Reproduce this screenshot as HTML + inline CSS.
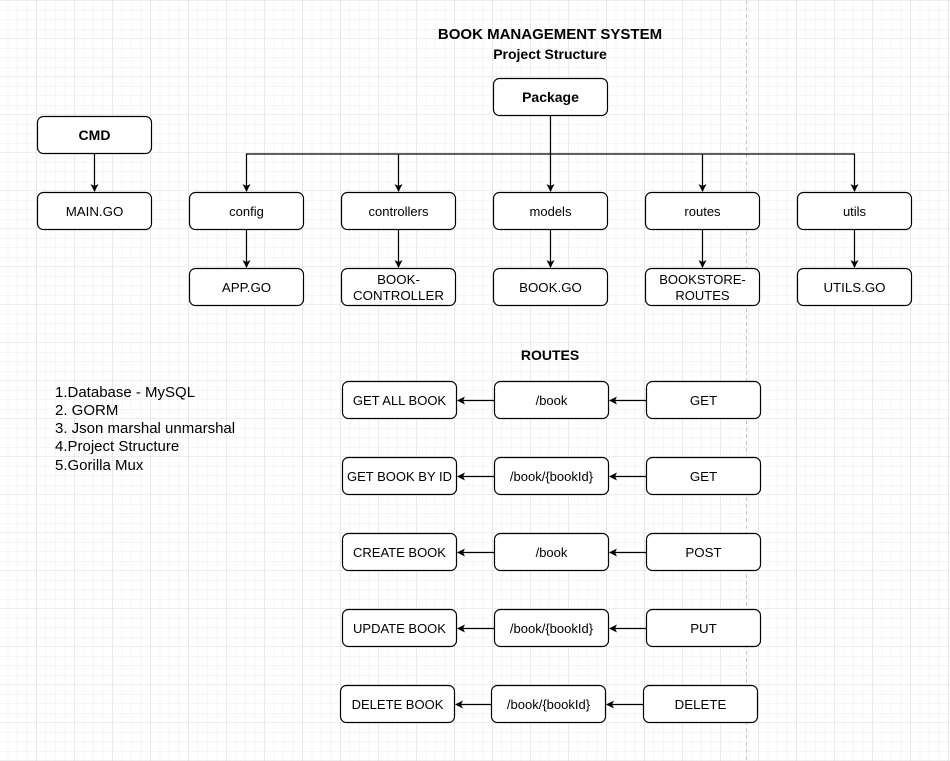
<!DOCTYPE html>
<html><head><meta charset="utf-8"><style>
html,body{margin:0;padding:0;}
body{width:950px;height:761px;overflow:hidden;background:#fff;}
svg{display:block;font-family:"Liberation Sans",Arial,sans-serif;}
</style></head><body>
<svg width="950" height="761" viewBox="0 0 950 761" xmlns="http://www.w3.org/2000/svg">
<defs>
<pattern id="minor" x="-1.3" y="1" width="9.5" height="9.5" patternUnits="userSpaceOnUse">
<path d="M9.5 0V9.5M0 9.5H9.5" stroke="#ececec" stroke-width="1" fill="none"/>
</pattern>
<pattern id="major" x="-1.3" y="1" width="38" height="38" patternUnits="userSpaceOnUse">
<path d="M38 0V38M0 38H38" stroke="#dcdcdc" stroke-width="1" fill="none"/>
</pattern>
<marker id="ar" markerWidth="8" markerHeight="8" refX="7" refY="4" orient="auto" markerUnits="userSpaceOnUse">
<path d="M0,0 L8,4 L0,8 L2,4 Z" fill="#000"/>
</marker>
</defs>
<rect width="950" height="761" fill="url(#minor)"/>
<rect width="950" height="761" fill="url(#major)"/>
<line x1="746.5" y1="0" x2="746.5" y2="761" stroke="#c8c8c8" stroke-dasharray="4,3"/>

<g font-weight="bold" font-size="14" text-anchor="middle" fill="#000">
<text x="550" y="39" font-size="15">BOOK MANAGEMENT SYSTEM</text>
<text x="550" y="59">Project Structure</text>
<text x="550" y="360">ROUTES</text>
</g>

<g stroke="#000" stroke-width="1.2" fill="#fff">
<rect x="37.5" y="116.5" width="114" height="37" rx="6"/>
<rect x="37.5" y="192.5" width="114" height="37" rx="6"/>
<rect x="493.5" y="78.5" width="114" height="37" rx="6"/>
<rect x="189.5" y="192.5" width="114" height="37" rx="6"/>
<rect x="341.5" y="192.5" width="114" height="37" rx="6"/>
<rect x="493.5" y="192.5" width="114" height="37" rx="6"/>
<rect x="645.5" y="192.5" width="114" height="37" rx="6"/>
<rect x="797.5" y="192.5" width="114" height="37" rx="6"/>
<rect x="189.5" y="268.5" width="114" height="37" rx="6"/>
<rect x="341.5" y="268.5" width="114" height="37" rx="6"/>
<rect x="493.5" y="268.5" width="114" height="37" rx="6"/>
<rect x="645.5" y="268.5" width="114" height="37" rx="6"/>
<rect x="797.5" y="268.5" width="114" height="37" rx="6"/>
<rect x="342.5" y="381.5" width="114" height="37" rx="6"/>
<rect x="494.5" y="381.5" width="114" height="37" rx="6"/>
<rect x="646.5" y="381.5" width="114" height="37" rx="6"/>
<rect x="342.5" y="457.5" width="114" height="37" rx="6"/>
<rect x="494.5" y="457.5" width="114" height="37" rx="6"/>
<rect x="646.5" y="457.5" width="114" height="37" rx="6"/>
<rect x="342.5" y="533.5" width="114" height="37" rx="6"/>
<rect x="494.5" y="533.5" width="114" height="37" rx="6"/>
<rect x="646.5" y="533.5" width="114" height="37" rx="6"/>
<rect x="342.5" y="609.5" width="114" height="37" rx="6"/>
<rect x="494.5" y="609.5" width="114" height="37" rx="6"/>
<rect x="646.5" y="609.5" width="114" height="37" rx="6"/>
<rect x="340.5" y="685.5" width="114" height="37" rx="6"/>
<rect x="491.5" y="685.5" width="114" height="37" rx="6"/>
<rect x="643.5" y="685.5" width="114" height="37" rx="6"/>
</g>

<g stroke="#000" stroke-width="1.2" fill="none" marker-end="url(#ar)">
<line x1="94.5" y1="154" x2="94.5" y2="191"/>
<path d="M550.5 116V154H246.5V191"/>
<path d="M550.5 154H854.5V191"/>
<line x1="398.5" y1="154" x2="398.5" y2="191"/>
<line x1="550.5" y1="154" x2="550.5" y2="191"/>
<line x1="702.5" y1="154" x2="702.5" y2="191"/>
<line x1="246.5" y1="230" x2="246.5" y2="267"/>
<line x1="398.5" y1="230" x2="398.5" y2="267"/>
<line x1="550.5" y1="230" x2="550.5" y2="267"/>
<line x1="702.5" y1="230" x2="702.5" y2="267"/>
<line x1="854.5" y1="230" x2="854.5" y2="267"/>
<line x1="646" y1="400.5" x2="610" y2="400.5"/>
<line x1="494" y1="400.5" x2="458" y2="400.5"/>
<line x1="646" y1="476.5" x2="610" y2="476.5"/>
<line x1="494" y1="476.5" x2="458" y2="476.5"/>
<line x1="646" y1="552.5" x2="610" y2="552.5"/>
<line x1="494" y1="552.5" x2="458" y2="552.5"/>
<line x1="646" y1="628.5" x2="610" y2="628.5"/>
<line x1="494" y1="628.5" x2="458" y2="628.5"/>
<line x1="643" y1="704.5" x2="607" y2="704.5"/>
<line x1="491" y1="704.5" x2="456" y2="704.5"/>
</g>

<g font-size="13.3" text-anchor="middle" fill="#000">
<text x="94.5" y="140" font-weight="bold" font-size="14">CMD</text>
<text x="550.5" y="102" font-weight="bold" font-size="14">Package</text>
<text x="94.5" y="216">MAIN.GO</text>
<text x="246.5" y="216" font-size="13">config</text>
<text x="398.5" y="216" font-size="13">controllers</text>
<text x="550.5" y="216" font-size="13">models</text>
<text x="702.5" y="216" font-size="13">routes</text>
<text x="854.5" y="216" font-size="13">utils</text>
<text x="246.5" y="292">APP.GO</text>
<text x="398.5" y="284">BOOK-</text>
<text x="398.5" y="300">CONTROLLER</text>
<text x="550.5" y="292">BOOK.GO</text>
<text x="702.5" y="284" font-size="13">BOOKSTORE-</text>
<text x="702.5" y="300" font-size="13">ROUTES</text>
<text x="854.5" y="292">UTILS.GO</text>

<g font-size="13">
<text x="399.5" y="405">GET ALL BOOK</text>
<text x="399.5" y="481">GET BOOK BY ID</text>
<text x="399.5" y="557">CREATE BOOK</text>
<text x="399.5" y="633">UPDATE BOOK</text>
<text x="397.5" y="709">DELETE BOOK</text>
</g>
<g font-size="13">
<text x="551.5" y="405">/book</text>
<text x="551.5" y="481">/book/{bookId}</text>
<text x="551.5" y="557">/book</text>
<text x="551.5" y="633">/book/{bookId}</text>
<text x="548.5" y="709">/book/{bookId}</text>
</g>
<text x="703.5" y="405">GET</text>
<text x="703.5" y="481">GET</text>
<text x="703.5" y="557">POST</text>
<text x="703.5" y="633">PUT</text>
<text x="700.5" y="709">DELETE</text>
</g>

<g font-size="15" fill="#000">
<text x="55" y="397">1.Database - MySQL</text>
<text x="55" y="415">2. GORM</text>
<text x="55" y="433">3. Json marshal unmarshal</text>
<text x="55" y="451">4.Project Structure</text>
<text x="55" y="470">5.Gorilla Mux</text>
</g>
</svg>
</body></html>
